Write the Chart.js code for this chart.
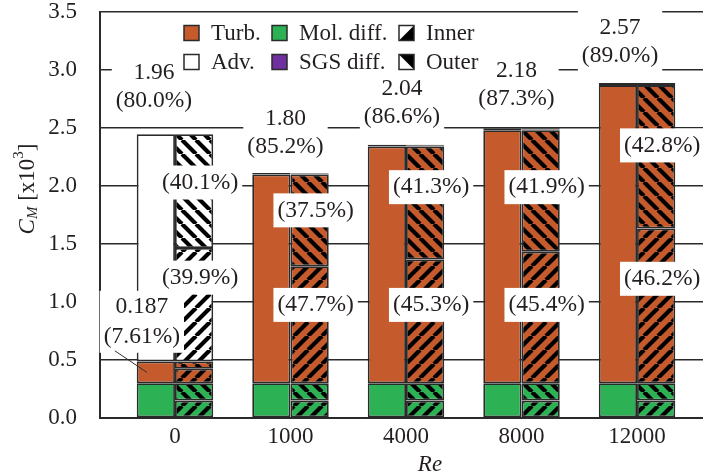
<!DOCTYPE html>
<html>
<head>
<meta charset="utf-8">
<script src="https://cdn.jsdelivr.net/npm/chart.js@4.4.1/dist/chart.umd.min.js"></script>
<style>
html, body { margin: 0; padding: 0; background: #fff; overflow: hidden; }
</style>
</head>
<body>
<canvas id="chart" width="703" height="476"></canvas>
<script>
// Re categories
const reLabels = ['0', '1000', '4000', '8000', '12000'];

// whole volume contributions to C_M [x10^3]
const molDiff = [0.30, 0.30, 0.30, 0.30, 0.30];
const turb    = [0.187, 1.80, 2.04, 2.18, 2.57];
const sgsDiff = [0, 0.013, 0.016, 0.017, 0.018];
const adv     = [1.96, 0, 0, 0, 0];

// inner / outer split of each contribution
const molInner  = [0.15, 0.15, 0.15, 0.15, 0.15];
const molOuter  = [0.15, 0.15, 0.15, 0.15, 0.15];
const turbInner = [0.125, 1.008, 1.067, 1.134, 1.334];
const turbOuter = [0.062, 0.792, 0.973, 1.046, 1.236];
const sgsInner  = [0, 0.007, 0.008, 0.008, 0.009];
const sgsOuter  = [0, 0.006, 0.008, 0.009, 0.009];
const advInner  = [0.978, 0, 0, 0, 0];
const advOuter  = [0.982, 0, 0, 0, 0];

// shares printed on the figure [%]
const mainPct  = [80.0, 85.2, 86.6, 87.3, 89.0];
const turbPct0 = 7.61;
const innerPct = [39.9, 47.7, 45.3, 45.4, 46.2];
const outerPct = [40.1, 37.5, 41.3, 41.9, 42.8];

const FONT = 'Liberation Serif';
const TEXT = '#231f20';
const EDGE = '#2a2a2a';
const ORANGE = '#c55a2c';
const GREEN = '#2db155';
const PURPLE = '#7030a0';

const canvas = document.getElementById('chart');
const mainCtx = canvas.getContext('2d');

function hatch(bg, dir) {
    const s = 14;
    const c = document.createElement('canvas');
    c.width = c.height = s;
    const g = c.getContext('2d');
    g.fillStyle = bg;
    g.fillRect(0, 0, s, s);
    g.strokeStyle = '#000';
    g.lineWidth = 4.2;
    g.beginPath();
    for (const o of [-s, 0, s]) {
        if (dir === '/') { g.moveTo(o, s); g.lineTo(o + s, 0); }
        else { g.moveTo(o, 0); g.lineTo(o + s, s); }
    }
    g.stroke();
    return mainCtx.createPattern(c, 'repeat');
}

const bar = (label, data, color, stack) => ({
    label,
    data: data.map((v, i) => ({ x: i, y: v })),
    backgroundColor: color,
    borderColor: EDGE,
    borderWidth: 1.8,
    borderSkipped: false,
    stack
});

const datasets = [
    bar('Mol. diff.', molDiff, GREEN, 'total'),
    bar('Turb.', turb, ORANGE, 'total'),
    bar('SGS diff.', sgsDiff, PURPLE, 'total'),
    bar('Adv.', adv, '#ffffff', 'total'),
    bar('Mol. inner', molInner, hatch(GREEN, '/'), 'split'),
    bar('Mol. outer', molOuter, hatch(GREEN, '\\'), 'split'),
    bar('Turb. inner', turbInner, hatch(ORANGE, '/'), 'split'),
    bar('Turb. outer', turbOuter, hatch(ORANGE, '\\'), 'split'),
    bar('SGS inner', sgsInner, hatch(PURPLE, '/'), 'split'),
    bar('SGS outer', sgsOuter, hatch(PURPLE, '\\'), 'split'),
    bar('Adv. inner', advInner, hatch('#ffffff', '/'), 'split'),
    bar('Adv. outer', advOuter, hatch('#ffffff', '\\'), 'split')
];

// label placement (annotation anchors)
const topDx   = [-21, -5, -4, -5, -17];
const topLift = [33, 26, 28, 30, 27];
const outerAt = [2.03, 1.79, 1.99, 1.99, 2.35];
const innerAt = [1.21, 0.975, 0.975, 0.975, 1.20];

function boxText(ctx, lines, cx, cy, lh, padX, padY) {
    ctx.font = `23.5px "${FONT}"`;
    const w = Math.max(...lines.map(t => ctx.measureText(t).width)) + 2 * padX;
    const h = (lines.length - 1) * lh + 2 * padY;
    ctx.fillStyle = '#fff';
    ctx.fillRect(cx - w / 2, cy - padY, w, h);
    ctx.fillStyle = TEXT;
    ctx.textAlign = 'center';
    ctx.textBaseline = 'middle';
    lines.forEach((t, k) => ctx.fillText(t, cx, cy + k * lh));
}

const overlay = {
    id: 'overlay',
    afterDatasetsDraw(chart) {
        const ctx = chart.ctx;
        const y = chart.scales.y;
        const x = chart.scales.x;
        const left = chart.getDatasetMeta(0).data;
        const right = chart.getDatasetMeta(4).data;
        ctx.save();
        reLabels.forEach((r, i) => {
            const total = molDiff[i] + turb[i] + sgsDiff[i] + adv[i];
            const main = i === 0 ? adv[i] : turb[i];
            const top = y.getPixelForValue(total);
            const cx = x.getPixelForValue(i) + topDx[i];
            const l2 = top - topLift[i];
            boxText(ctx, [main.toFixed(2), `(${mainPct[i].toFixed(1)}%)`], cx, l2 - 28, 28, 4, 17);
            const rx = right[i].x + 6;
            boxText(ctx, [`(${outerPct[i].toFixed(1)}%)`], rx, y.getPixelForValue(outerAt[i]), 0, 4, 17);
            boxText(ctx, [`(${innerPct[i].toFixed(1)}%)`], rx, y.getPixelForValue(innerAt[i]), 0, 4, 17);
        });
        // turbulent share at Re = 0
        const lx = left[0].x - 14;
        const l2 = y.getPixelForValue(0.70);
        boxText(ctx, [turb[0].toFixed(3), `(${turbPct0.toFixed(2)}%)`], lx, l2 - 30, 30, 4, 16);
        const segMid = y.getPixelForValue(molDiff[0] + turb[0] / 2);
        ctx.strokeStyle = '#333';
        ctx.lineWidth = 1;
        ctx.beginPath();
        ctx.moveTo(lx - 27, l2 + 14);
        ctx.lineTo(left[0].x - 9, segMid);
        ctx.stroke();
        ctx.restore();
    },
    afterDraw(chart) {
        const ctx = chart.ctx;
        ctx.save();
        // legend
        ctx.fillStyle = '#fff';
        ctx.fillRect(176, 15, 300, 63);
        const items = [
            ['Turb.', ORANGE, 184, 33], ['Mol. diff.', GREEN, 272, 33], ['Inner', 'in', 399, 33],
            ['Adv.', '#ffffff', 184, 62], ['SGS diff.', PURPLE, 272, 62], ['Outer', 'out', 399, 62]
        ];
        ctx.font = `23px "${FONT}"`;
        ctx.textBaseline = 'middle';
        ctx.textAlign = 'left';
        items.forEach(([t, col, bx, by]) => {
            const s = 15, ty = by - s / 2;
            ctx.fillStyle = col === 'in' || col === 'out' ? '#fff' : col;
            ctx.fillRect(bx, ty, s, s);
            if (col === 'in' || col === 'out') {
                ctx.fillStyle = '#000';
                ctx.beginPath();
                if (col === 'in') { ctx.moveTo(bx + s, ty); ctx.lineTo(bx + s, ty + s); ctx.lineTo(bx, ty + s); }
                else { ctx.moveTo(bx, ty); ctx.lineTo(bx + s, ty); ctx.lineTo(bx + s, ty + s); }
                ctx.fill();
            }
            ctx.strokeStyle = EDGE;
            ctx.lineWidth = 1.5;
            ctx.strokeRect(bx, ty, s, s);
            ctx.fillStyle = TEXT;
            ctx.fillText(t, bx + s + 12, by + 1);
        });
        // x title
        ctx.font = `italic 23px "${FONT}"`;
        ctx.textAlign = 'center';
        ctx.fillText('Re', 430, 465);
        // y title C_M [x10^3]
        ctx.translate(28, 189);
        ctx.rotate(-Math.PI / 2);
        const parts = [
            ['C', `italic 23px "${FONT}"`, 0],
            ['M', `italic 15px "${FONT}"`, 5],
            [' [x10', `23px "${FONT}"`, 0],
            ['3', `15px "${FONT}"`, -9],
            [']', `23px "${FONT}"`, 0]
        ];
        let w = 0;
        parts.forEach(p => { ctx.font = p[1]; w += ctx.measureText(p[0]).width; });
        let px = -w / 2;
        ctx.textAlign = 'left';
        parts.forEach(p => {
            ctx.font = p[1];
            ctx.fillText(p[0], px, p[2]);
            px += ctx.measureText(p[0]).width;
        });
        ctx.restore();
    }
};

new Chart(mainCtx, {
    type: 'bar',
    data: { datasets },
    options: {
        responsive: false,
        devicePixelRatio: 1,
        animation: false,
        layout: { padding: { top: 12, left: 0, right: 0, bottom: 0 } },
        datasets: { bar: { categoryPercentage: 0.662, barPercentage: 1 } },
        plugins: { legend: { display: false }, tooltip: { enabled: false } },
        scales: {
            x: {
                type: 'linear',
                stacked: true,
                offset: false,
                min: -0.649,
                max: 4.571,
                grid: { display: false, drawTicks: false, offset: false },
                border: { color: EDGE, width: 2 },
                ticks: {
                    stepSize: 1,
                    includeBounds: false,
                    autoSkip: false,
                    maxRotation: 0,
                    padding: 5,
                    color: TEXT,
                    font: { family: FONT, size: 23 },
                    callback: v => reLabels[v] ?? ''
                },
                afterFit: s => { s.height = 58; s.paddingLeft = 0; s.paddingRight = 0; }
            },
            y: {
                stacked: true,
                min: 0,
                max: 3.5,
                grid: { color: EDGE, lineWidth: 1.5, drawTicks: false },
                border: { color: EDGE, width: 2 },
                ticks: {
                    stepSize: 0.5,
                    padding: 23,
                    color: TEXT,
                    font: { family: FONT, size: 23 },
                    callback: v => v.toFixed(1)
                },
                afterFit: s => { s.width = 100; s.paddingTop = 0; s.paddingBottom = 0; }
            }
        }
    },
    plugins: [overlay]
});
</script>
</body>
</html>
